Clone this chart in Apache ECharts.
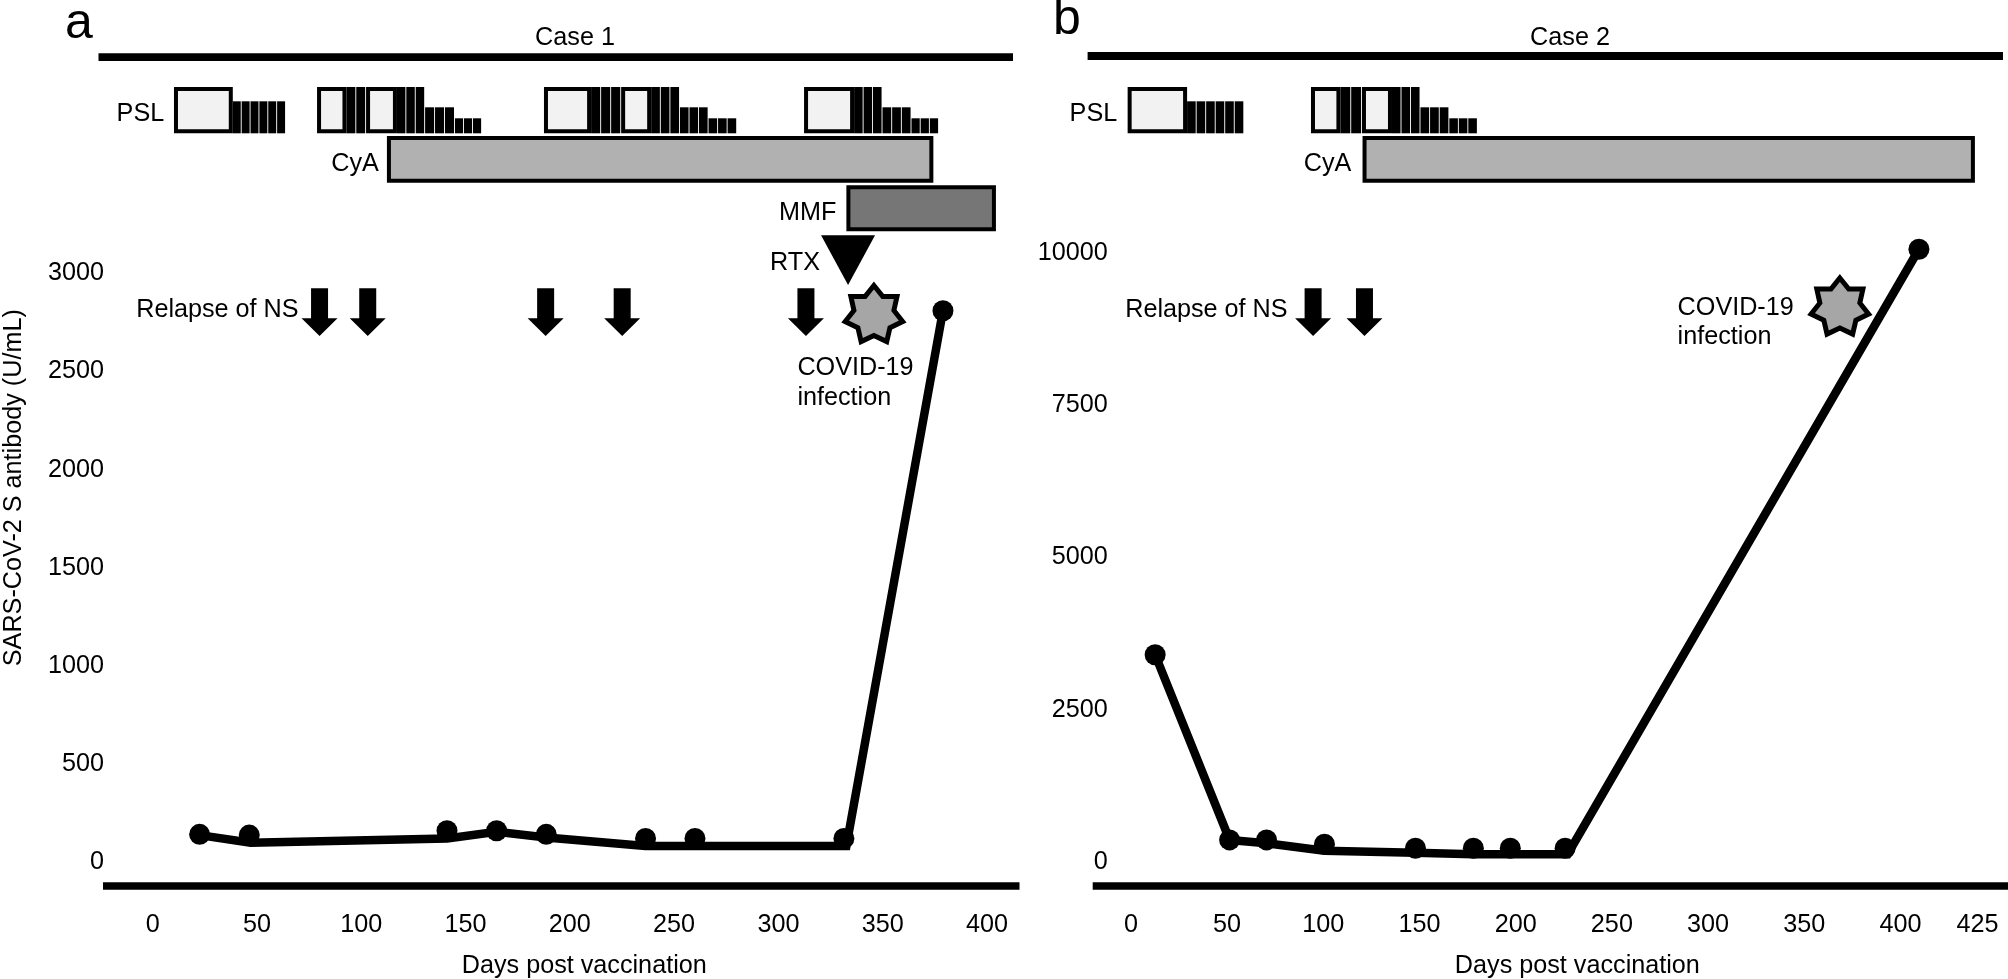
<!DOCTYPE html>
<html><head><meta charset="utf-8">
<style>html,body{margin:0;padding:0;background:#fff}#c{width:2008px;height:979px}</style>
<script src="https://cdn.jsdelivr.net/npm/echarts@6/dist/echarts.min.js"></script>
</head><body><div id="c"></div>
<script>
// ---------- Case 1 ----------
const xTicksA = [0,50,100,150,200,250,300,350,400];
const xTickLabelsA = ['0','50','100','150','200','250','300','350','400'];
const yTicksA = [0,500,1000,1500,2000,2500,3000];
const lineDaysA = [22.5,47,141.1,164.9,188.7,236.3,332.6,378.9];
const lineValuesA = [136,97,119,153,124,80,80,2810];
const dotDaysA = [22.5,46.3,141.1,164.9,188.7,236.3,260,331.4,378.9];
const dotValuesA = [140,136,158,158,140,119,119,119,2810];
const pslBoxesA = [[10.2,38.4],[78.8,92.9],[102.3,117.1],[187.6,210.2],[224.6,239],[312.3,336.3]];
const pslBarsA = [[38.4,63.9,6,'low'],[92.9,102.3,2,'tall'],[117.1,130.6,3,'tall'],[130.6,144.9,3,'mid'],[144.9,157.9,3,'small'],
  [210.2,224.6,3,'tall'],[239,252.8,3,'tall'],[252.8,266.5,3,'mid'],[266.5,280.2,3,'small'],
  [336.3,349.9,3,'tall'],[349.9,363.8,3,'mid'],[363.8,377,3,'small']];
const cyaA = [112.3,374.3];
const mmfA = [332.6,404.3];
const rtxDaysA = [333.4];
const relapseDaysA = [80,103.1,188.4,225.1,313.2];
const covidDaysA = [345.8];
// ---------- Case 2 ----------
const xTicksB = [0,50,100,150,200,250,300,350,400,440];
const xTickLabelsB = ['0','50','100','150','200','250','300','350','400','425'];
const yTicksB = [0,2500,5000,7500,10000];
const lineDaysB = [12.6,51.3,70.5,100.6,147.9,178,227,409.6];
const lineValuesB = [3401,357,302,181,148,122,122,10066];
const dotDaysB = [12.6,51.3,70.5,100.6,147.9,178,197.2,225.7,409.6];
const dotValuesB = [3401,357,357,286,220,220,220,220,10066];
const pslBoxesB = [[-1.7,29.2],[93.6,108.9],[120.1,135.7]];
const pslBarsB = [[29.2,58.9,6,'low'],[108.9,120.1,2,'tall'],[135.7,150.5,3,'tall'],[150.5,165.5,3,'mid'],[165.5,180.3,3,'small']];
const cyaB = [120.4,438.7];
const relapseDaysB = [94.7,121.4];
const covidDaysB = [368.5];

const FONT = '"Liberation Sans", Arial, sans-serif';
const FS = 25.2;
const BAR_TOP = {tall:87, mid:107.3, small:118.3, low:101.3};
const PSL_TOP = 87, PSL_BOTTOM = 133.3;

function boxSeries(gridIdx, rows){
  return {type:'custom', xAxisIndex:gridIdx, yAxisIndex:gridIdx, silent:true, z:5, data:rows,
    renderItem(p, api){
      const x0 = api.coord([api.value(0),0])[0], x1 = api.coord([api.value(1),0])[0];
      return {type:'rect', shape:{x:x0+2,y:PSL_TOP+2,width:x1-x0-4,height:PSL_BOTTOM-PSL_TOP-4},
        style:{fill:'#f2f2f2',stroke:'#000',lineWidth:4}};
    }};
}
function barSeries(gridIdx, rows){
  return {type:'custom', xAxisIndex:gridIdx, yAxisIndex:gridIdx, silent:true, z:5,
    data:rows.map(r=>[r[0],r[1],r[2],Object.keys(BAR_TOP).indexOf(r[3])]),
    renderItem(p, api){
      const x0 = api.coord([api.value(0),0])[0], x1 = api.coord([api.value(1),0])[0];
      const n = api.value(2), top = BAR_TOP[Object.keys(BAR_TOP)[api.value(3)]];
      const w = (x1-x0)/n, kids = [];
      for(let i=0;i<n;i++) kids.push({type:'rect',shape:{x:x0+i*w,y:top,width:w-0.9,height:PSL_BOTTOM-top},style:{fill:'#000'}});
      return {type:'group',children:kids};
    }};
}
function bandSeries(gridIdx, span, top, bottom, fill){
  return {type:'custom', xAxisIndex:gridIdx, yAxisIndex:gridIdx, silent:true, z:5, data:[span],
    renderItem(p, api){
      const x0 = api.coord([api.value(0),0])[0], x1 = api.coord([api.value(1),0])[0];
      return {type:'rect', shape:{x:x0+2,y:top+2,width:x1-x0-4,height:bottom-top-4},
        style:{fill:fill,stroke:'#000',lineWidth:4}};
    }};
}
function arrowSeries(gridIdx, days){
  return {type:'custom', xAxisIndex:gridIdx, yAxisIndex:gridIdx, silent:true, z:5, data:days.map(d=>[d]),
    renderItem(p, api){
      const x = api.coord([api.value(0),0])[0];
      return {type:'polygon', shape:{points:[[x-8.5,288.3],[x+8.5,288.3],[x+8.5,318.3],[x+18,318.3],[x,336],[x-18,318.3],[x-8.5,318.3]]},style:{fill:'#000'}};
    }};
}
function triangleSeries(gridIdx, days){
  return {type:'custom', xAxisIndex:gridIdx, yAxisIndex:gridIdx, silent:true, z:5, data:days.map(d=>[d]),
    renderItem(p, api){
      const x = api.coord([api.value(0),0])[0];
      return {type:'polygon', shape:{points:[[x-27,235.3],[x+27,235.3],[x,285]]},style:{fill:'#000'}};
    }};
}
function starSeries(gridIdx, days, cy){
  return {type:'custom', xAxisIndex:gridIdx, yAxisIndex:gridIdx, silent:true, z:5, data:days.map(d=>[d]),
    renderItem(p, api){
      const x = api.coord([api.value(0),0])[0], pts = [];
      for(let i=0;i<14;i++){
        const r = i%2?20.5:29.5, a = -Math.PI/2 + i*Math.PI/7;
        pts.push([x+r*Math.cos(a), cy+r*Math.sin(a)]);
      }
      return {type:'polygon', shape:{points:pts},style:{fill:'#a6a6a6',stroke:'#000',lineWidth:5,lineJoin:'miter'}};
    }};
}
function curve(gridIdx, days, vals){
  return {type:'line', xAxisIndex:gridIdx, yAxisIndex:gridIdx, silent:true, z:3, showSymbol:false, symbol:'none',
    data:days.map((d,i)=>[d,vals[i]]), lineStyle:{color:'#000',width:8.5,join:'miter',cap:'butt'}};
}
function dots(gridIdx, days, vals){
  return {type:'scatter', xAxisIndex:gridIdx, yAxisIndex:gridIdx, silent:true, z:4, symbol:'circle', symbolSize:21,
    data:days.map((d,i)=>[d,vals[i]]), itemStyle:{color:'#000',opacity:1}};
}
function xAxis(gridIdx, min, max, ticks, labels, shift){
  return {type:'value', gridIndex:gridIdx, min, max, splitLine:{show:false}, axisTick:{show:false},
    axisLine:{show:true,onZero:false,lineStyle:{color:'#000',width:7.5,cap:'butt'}},
    axisLabel:{customValues:ticks, margin:27, color:'#000', fontFamily:FONT, fontSize:FS,
      hideOverlap:false, formatter:v=>labels[ticks.indexOf(v)]},
    name:'Days post vaccination', nameLocation:'middle', nameGap:68,
    nameTextStyle:{color:'#000',fontFamily:FONT,fontSize:FS,padding:[0,0,0,shift]}};
}
function yAxis(gridIdx, min, max, ticks, margin, name){
  const a = {type:'value', gridIndex:gridIdx, min, max, splitLine:{show:false}, axisTick:{show:false}, axisLine:{show:false},
    axisLabel:{customValues:ticks, margin, color:'#000', fontFamily:FONT, fontSize:FS, hideOverlap:false, padding:[2,0,0,0], formatter:v=>String(v)}};
  if(name){ a.name=name; a.nameLocation='middle'; a.nameGap=76.5; a.nameRotate=90;
    a.nameTextStyle={color:'#000',fontFamily:FONT,fontSize:FS,padding:[0,0,0,172]}; }
  return a;
}
function txt(x,y,text,opt){
  return Object.assign({type:'text',x,y,silent:true,style:Object.assign({text,fill:'#000',font:FS+'px '+FONT,align:'center',verticalAlign:'middle'},opt||{})});
}
function rule(x0,x1,y0,y1){
  return {type:'rect',silent:true,shape:{x:x0,y:y0,width:x1-x0,height:y1-y0},style:{fill:'#000'}};
}

const option = {
  animation:false, backgroundColor:'#fff',
  grid:[
    {left:103, width:916.5, top:261.7, height:624, outerBoundsMode:'none'},
    {left:1092.7, width:915.3, top:241.1, height:644.6, outerBoundsMode:'none'}
  ],
  xAxis:[ xAxis(0,-23.83,415.6,xTicksA,xTickLabelsA,46), xAxis(1,-19.86,455.9,xTicksB,xTickLabelsB,54) ],
  yAxis:[ yAxis(0,-122,3060,yTicksA,-1,'SARS-CoV-2 S antibody (U/mL)'), yAxis(1,-395,10200,yTicksB,-15) ],
  series:[
    curve(0,lineDaysA,lineValuesA), dots(0,dotDaysA,dotValuesA),
    boxSeries(0,pslBoxesA), barSeries(0,pslBarsA),
    bandSeries(0,cyaA,136,182.7,'#b1b1b1'), bandSeries(0,mmfA,185.3,231.3,'#767676'),
    triangleSeries(0,rtxDaysA), arrowSeries(0,relapseDaysA), starSeries(0,covidDaysA,315),
    curve(1,lineDaysB,lineValuesB), dots(1,dotDaysB,dotValuesB),
    boxSeries(1,pslBoxesB), barSeries(1,pslBarsB),
    bandSeries(1,cyaB,136,182.7,'#b1b1b1'),
    arrowSeries(1,relapseDaysB), starSeries(1,covidDaysB,307.5)
  ],
  graphic:[
    rule(98.5,1013,53.3,61), rule(1087.6,2003,52,60),
    txt(79,24.5,'a',{font:'50px '+FONT}), txt(1067,20,'b',{font:'50px '+FONT}),
    txt(575,38.5,'Case 1'), txt(1570,38.5,'Case 2'),
    txt(140.4,114,'PSL'), txt(355,164.3,'CyA'), txt(807.7,212.7,'MMF'), txt(795,262.7,'RTX'),
    txt(217.4,310.5,'Relapse of NS'),
    txt(797.4,367.7,'COVID-19',{align:'left'}), txt(797.4,397.7,'infection',{align:'left'}),
    txt(1093.4,114,'PSL'), txt(1327.6,164.3,'CyA'),
    txt(1206.4,310.5,'Relapse of NS'),
    txt(1677.6,307.7,'COVID-19',{align:'left'}), txt(1677.6,337,'infection',{align:'left'})
  ]
};
const chart = echarts.init(document.getElementById('c'),null,{renderer:'canvas'});
chart.setOption(option);
</script></body></html>
